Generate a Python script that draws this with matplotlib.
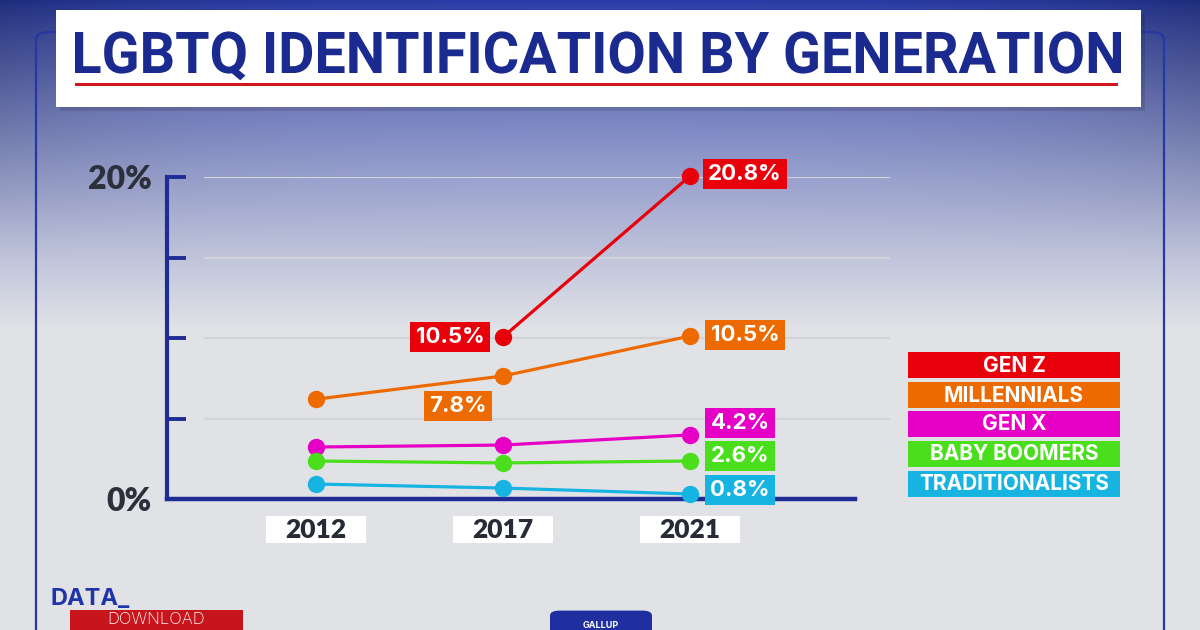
import numpy as np
import matplotlib
matplotlib.use("Agg")
import matplotlib.pyplot as plt
from matplotlib.patches import Rectangle, FancyBboxPatch, PathPatch
from matplotlib.transforms import blended_transform_factory, Affine2D
from matplotlib.textpath import TextPath
from matplotlib.font_manager import FontProperties

years = ["2012", "2017", "2021"]
generations = ["GEN Z", "MILLENNIALS", "GEN X", "BABY BOOMERS", "TRADITIONALISTS"]
gen_z = [np.nan, 10.06, 20.06]
millennials = [6.2, 7.64, 10.12]
gen_x = [3.23, 3.35, 3.98]
boomers = [2.36, 2.24, 2.36]
traditionalists = [0.93, 0.68, 0.31]
colors = ["#e8000b", "#ec6a00", "#e600c6", "#4ade1c", "#17b4e2"]
value_labels = [
    (0, 2, "20.8%"), (0, 1, "10.5%"),
    (1, 1, "7.8%"), (1, 2, "10.5%"),
    (2, 2, "4.2%"), (3, 2, "2.6%"), (4, 2, "0.8%"),
]
ytick_vals = [0, 5, 10, 15, 20]
ytick_text = ["0%", "", "", "", "20%"]
title = "LGBTQ IDENTIFICATION BY GENERATION"

series = [gen_z, millennials, gen_x, boomers, traditionalists]
NAVY = "#1e2c94"
W, H = 1200, 630
LABEL_FONT = ["Inter", "DejaVu Sans"]


def fx(px):
    return px / W


def fy(py):
    return 1 - py / H


fig = plt.figure(figsize=(12, 6.3), dpi=100)

# background gradient
bg = fig.add_axes([0, 0, 1, 1], zorder=-10)
yy, xx = np.mgrid[0:H, 0:W]
t = np.clip(yy / 330.0, 0, 1) ** 0.8
top = np.array([0.16, 0.23, 0.65])
low = np.array([0.885, 0.89, 0.905])
img = top[None, None, :] * (1 - t[..., None]) + low[None, None, :] * t[..., None]
edge = (np.abs(xx - W / 2) / (W / 2)) ** 3 * np.clip(1 - yy / 260.0, 0, 1)
img = img * (1 - 0.25 * edge[..., None])
img = np.clip(img, 0, 1)
bg.imshow(img, aspect="auto", extent=[0, W, H, 0])
bg.set_xlim(0, W)
bg.set_ylim(H, 0)
bg.axis("off")

# panel outline
fig.add_artist(FancyBboxPatch((fx(36), fy(680)), fx(1164 - 36), (680 - 32) / H,
                              boxstyle="round,pad=0,rounding_size=0.012",
                              transform=fig.transFigure, fill=False,
                              edgecolor="#2637a6", lw=1.6, zorder=1))

# title box
fig.add_artist(Rectangle((fx(60), fy(111)), fx(1085), 97 / H, transform=fig.transFigure,
                         facecolor="#000000", alpha=0.12, edgecolor="none", zorder=2))
fig.add_artist(Rectangle((fx(56), fy(107)), fx(1085), 97 / H, transform=fig.transFigure,
                         facecolor="white", edgecolor="none", zorder=3))
fig.add_artist(Rectangle((fx(75), fy(85.5)), fx(1043), 3 / H, transform=fig.transFigure,
                         facecolor="#d3151d", edgecolor="none", zorder=4))

# title drawn as a text path, fitted to the box of the original lettering
fp = FontProperties(family=["Roboto", "DejaVu Sans"], weight="bold")
tp = TextPath((0, 0), title, size=100, prop=fp)
cap = TextPath((0, 0), "L", size=100, prop=fp).get_extents().height
ext = tp.get_extents()
sx = 1046 / ext.width
sy = 41 / cap
tr = (Affine2D().translate(-ext.x0, 0).scale(sx, sy)
      .translate(75, H - 73).scale(1 / W, 1 / H))
fig.add_artist(PathPatch(tr.transform_path(tp), transform=fig.transFigure,
                         facecolor="#1b2a8e", edgecolor="none", zorder=5))

# main axes
ax = fig.add_axes([fx(167), fy(499), fx(890 - 167), 322 / H], zorder=5)
ax.patch.set_alpha(0)
ax.set_xlim(-(316 - 167) / 187, (890 - 316) / 187)
ax.set_ylim(0, 20)
for s in ["top", "right", "bottom"]:
    ax.spines[s].set_visible(False)
ax.spines["left"].set_color(NAVY)
ax.spines["left"].set_linewidth(3)
ax.set_yticks(ytick_vals)
ax.set_yticklabels(ytick_text)
ax.tick_params(axis="y", direction="in", length=14, width=2.8, color=NAVY, pad=11,
               labelsize=23, labelcolor="#2b303b")
for lb in ax.get_yticklabels():
    lb.set_fontweight("heavy")
    lb.set_family(["Lato", "DejaVu Sans"])
ax.set_xticks([])

for v in ytick_vals[1:]:
    ax.axhline(v, xmin=(205 - 167) / 723, xmax=1, color="#d2d4da", lw=1.6, zorder=1)
ax.axhline(0, xmin=0, xmax=(855 - 167) / 723, color=NAVY, lw=3.2, zorder=2, clip_on=False)

x = np.arange(len(years))
for vals, c in zip(series, colors):
    ax.plot(x, vals, color=c, lw=2.3, marker="o", ms=11.5, zorder=4, clip_on=False)

# value labels
offsets = [(55, 2), (-53, 0), (-45, -30), (55, 1), (50, 12), (50, 5), (50, 4)]
for (si, xi, txt), (ox, oy) in zip(value_labels, offsets):
    ax.annotate(txt, (x[xi], series[si][xi]), xytext=(ox, oy), textcoords="offset pixels",
                ha="center", va="center", color="white", fontsize=16, weight="bold",
                family=LABEL_FONT, zorder=6, annotation_clip=False,
                bbox=dict(boxstyle="square,pad=0.24", fc=colors[si], ec="none"))

# year labels
bt = blended_transform_factory(ax.transData, ax.transAxes)
for xi, yr in zip(x, years):
    ax.add_patch(Rectangle((xi - 0.267, (499 - 543) / 322), 0.535, 27 / 322, transform=bt,
                           facecolor="white", edgecolor="none", clip_on=False, zorder=3))
    ax.text(xi, (499 - 529.5) / 322, yr, transform=bt, ha="center", va="center",
            fontsize=19, weight="heavy", color="#262b36", family=["Lato", "DejaVu Sans"],
            zorder=4)

# legend boxes
leg_top = [352, 382, 411, 441, 471]
for g, c, ty in zip(generations, colors, leg_top):
    fig.add_artist(Rectangle((fx(908), fy(ty + 26)), fx(212), 26 / H, transform=fig.transFigure,
                             facecolor=c, edgecolor="none", zorder=6))
    fig.text(fx(1014), fy(ty + 13.5), g, ha="center", va="center", color="white",
             fontsize=15, weight="bold", family=LABEL_FONT, zorder=7)

# bottom branding (cropped at the bottom edge in the original)
fig.text(fx(50), fy(599), "DATA_", ha="left", va="center", color="#1f34a8",
         fontsize=17, weight="bold", family=LABEL_FONT, zorder=7)
fig.add_artist(Rectangle((fx(70), 0), fx(173), 20 / H, transform=fig.transFigure,
                         facecolor="#c8141b", edgecolor="none", zorder=6))
fig.text(fx(156), fy(620), "DOWNLOAD", ha="center", va="center", color="white",
         fontsize=12, weight="light", family=LABEL_FONT, zorder=7)
fig.add_artist(FancyBboxPatch((fx(550), -0.02), fx(102), 32 / H,
                              boxstyle="round,pad=0,rounding_size=0.008",
                              transform=fig.transFigure, facecolor="#1f2fa0",
                              edgecolor="none", zorder=6))
fig.text(fx(601), fy(625), "GALLUP", ha="center", va="center", color="white",
         fontsize=6.5, weight="bold", family=LABEL_FONT, zorder=7)

fig.savefig("out.png", dpi=100)
